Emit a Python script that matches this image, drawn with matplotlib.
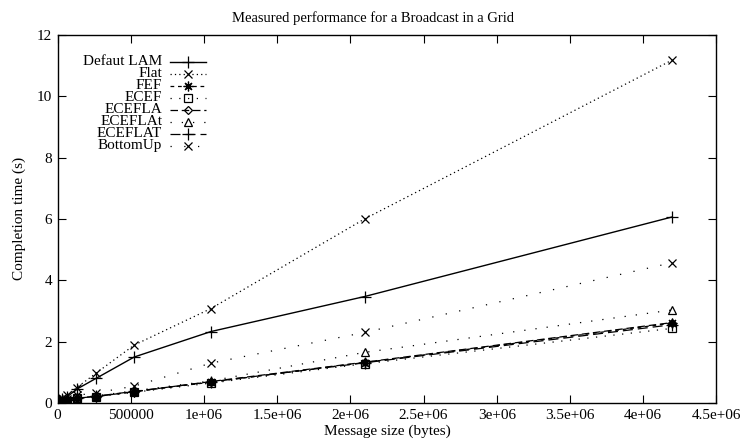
import numpy as np
import matplotlib.pyplot as plt
from matplotlib.ticker import FixedLocator, FixedFormatter

plt.rcParams['font.family'] = ['Liberation Serif', 'DejaVu Serif']
plt.rcParams['font.size'] = 11

# message sizes (bytes)
sizes = [1024, 2048, 4096, 8192, 16384, 32768, 65536,
         131072, 262144, 524288, 1048576, 2097152, 4194304]

# completion times (s)
default_lam = [0.01, 0.02, 0.03, 0.05, 0.07, 0.12, 0.2, 0.45, 0.8, 1.5, 2.33, 3.47, 6.06]
flat = [0.01, 0.02, 0.03, 0.06, 0.09, 0.15, 0.25, 0.5, 0.97, 1.89, 3.08, 6.0, 11.17]
fef = [0.01, 0.01, 0.02, 0.03, 0.04, 0.06, 0.09, 0.16, 0.21, 0.37, 0.68, 1.32, 2.6]
ecef = [0.01, 0.01, 0.02, 0.03, 0.04, 0.05, 0.08, 0.15, 0.2, 0.35, 0.65, 1.28, 2.43]
ecefla = [0.01, 0.01, 0.02, 0.03, 0.04, 0.06, 0.09, 0.16, 0.21, 0.37, 0.7, 1.33, 2.62]
eceflat_small = [0.01, 0.01, 0.02, 0.03, 0.04, 0.06, 0.1, 0.17, 0.23, 0.4, 0.72, 1.65, 3.03]
eceflat_big = [0.01, 0.01, 0.02, 0.03, 0.04, 0.06, 0.09, 0.16, 0.22, 0.38, 0.69, 1.31, 2.55]
bottomup = [0.01, 0.02, 0.03, 0.04, 0.06, 0.09, 0.14, 0.25, 0.33, 0.55, 1.3, 2.3, 4.57]

labels = ["Defaut LAM", "Flat", "FEF", "ECEF", "ECEFLA", "ECEFLAt", "ECEFLAT", "BottomUp"]
series = [default_lam, flat, fef, ecef, ecefla, eceflat_small, eceflat_big, bottomup]

# gnuplot-like styles: (linestyle, marker, markersize)
styles = [
    ('-', '+', 8),
    ((0, (1, 2.5)), 'x', 6),
    ((0, (3, 3)), (8, 2, 0), 7),
    ((0, (1, 6)), 's', 6),
    ((0, (6, 3)), 'D', 4.5),
    ((0, (1, 8)), '^', 6),
    ((0, (8, 4)), '+', 8),
    ((0, (1, 10)), 'x', 6),
]

fig = plt.figure(figsize=(7.47, 4.43), dpi=100)
ax = fig.add_axes([0.077, 0.0903, 0.882, 0.831])

for ys, (ls, mk, ms) in zip(series, styles):
    ax.plot(sizes, ys, color='black', linestyle=ls, linewidth=1.0 if ls == '-' else 0.9,
            marker=mk, markersize=ms, markerfacecolor='none', markeredgecolor='black',
            markeredgewidth=0.9)

ax.set_xlim(0, 4.5e6)
ax.set_ylim(0, 12)
xt = np.arange(0, 4.5e6 + 1, 5e5)
xl = ["0", "500000", "1e+06", "1.5e+06", "2e+06", "2.5e+06", "3e+06", "3.5e+06", "4e+06", "4.5e+06"]
ax.xaxis.set_major_locator(FixedLocator(xt))
ax.xaxis.set_major_formatter(FixedFormatter(xl))
ax.set_yticks(np.arange(0, 13, 2))
ax.tick_params(direction='in', top=True, right=True, length=6, width=0.8, pad=4)
for s in ax.spines.values():
    s.set_linewidth(1.0)

fig.text(0.5, 0.958, "Measured performance for a Broadcast in a Grid",
         fontsize=10.5, ha='center', va='center')
ax.set_xlabel("Message size (bytes)", labelpad=2)
ax.set_ylabel("Completion time (s)", labelpad=8)

# gnuplot-style key: right-aligned labels, sample to the right
y0 = 0.927
dy = 0.0326
for i, (lab, (ls, mk, ms)) in enumerate(zip(labels, styles)):
    yy = y0 - i * dy
    ax.text(0.159, yy, lab, transform=ax.transAxes, ha='right', va='center')
    ax.plot([0.171, 0.225], [yy, yy], transform=ax.transAxes, color='black',
            linestyle=ls, linewidth=1.0 if ls == '-' else 0.9)
    ax.plot([0.198], [yy], transform=ax.transAxes, color='black', marker=mk,
            markersize=ms, markerfacecolor='none', markeredgewidth=0.9)

fig.savefig("out.png", dpi=100)
